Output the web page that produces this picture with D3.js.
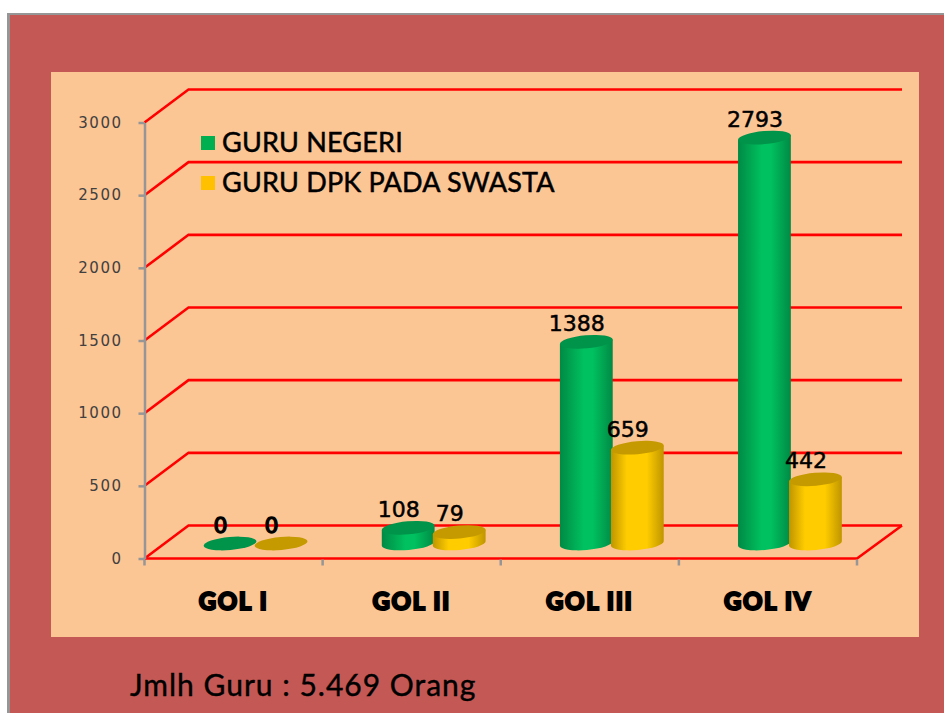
<!DOCTYPE html>
<html>
<head>
<meta charset="utf-8">
<script src="https://cdnjs.cloudflare.com/ajax/libs/d3/7.8.5/d3.min.js"></script>
<style>
    html, body { margin: 0; padding: 0; background: #fff; }
    svg { display: block; }
</style>
</head>
<body>
<svg width="944" height="713"></svg>
<script>
var categories = ["GOL I", "GOL II", "GOL III", "GOL IV"];
var guruNegeri = [0, 108, 1388, 2793];
var guruDpk = [0, 79, 659, 442];
var seriesNames = ["GURU NEGERI", "GURU DPK PADA SWASTA"];
var yTicks = [0, 500, 1000, 1500, 2000, 2500, 3000];
var footerText = "Jmlh Guru : 5.469 Orang";

var svg = d3.select("svg"),
    width = +svg.attr("width"),
    height = +svg.attr("height");

var plot = {left: 144.5, right: 857, top: 122.5, bottom: 558.5},
    depth = {x: 44, y: 33},
    rx = 26.5, ry = 6.5, tilt = -5;

var x = d3.scaleBand().domain(categories).range([plot.left, plot.right]);
var y = d3.scaleLinear().domain([0, 3000]).range([plot.bottom, plot.top]);

var colors = [
    {top: "#00934a", mid: "#00c15f", edge: "#008a45", from: "45%", to: "62%"},
    {top: "#c49a00", mid: "#ffcc00", edge: "#bf9500", from: "30%", to: "68%"}
];

// frame and panel
svg.append("rect").attr("x", 7).attr("y", 13).attr("width", width - 7).attr("height", height - 13).attr("fill", "#969696");
svg.append("rect").attr("x", 10).attr("y", 15).attr("width", width - 10).attr("height", height - 15).attr("fill", "#c45854");
svg.append("rect").attr("x", 51).attr("y", 72).attr("width", 868).attr("height", 565).attr("fill", "#fcc594");

var defs = svg.append("defs");
colors.forEach(function(c, i) {
    var g = defs.append("linearGradient").attr("id", "cyl" + i);
    g.append("stop").attr("offset", "0%").attr("stop-color", c.edge);
    g.append("stop").attr("offset", c.from).attr("stop-color", c.mid);
    g.append("stop").attr("offset", c.to).attr("stop-color", c.mid);
    g.append("stop").attr("offset", "100%").attr("stop-color", c.edge);
});

// red grid: side wall and back wall
var grid = svg.append("g").attr("fill", "none").attr("stroke", "#ff0000").attr("stroke-width", 2.6);
grid.selectAll("path.wall")
    .data(yTicks)
    .enter().append("path")
    .attr("class", "wall")
    .attr("d", function(d) {
        return "M" + plot.left + "," + y(d) +
            "L" + (plot.left + depth.x) + "," + (y(d) - depth.y) +
            "H" + (plot.right + depth.x + 1);
    });
grid.append("path")
    .attr("d", "M" + plot.left + "," + y(0) + "H" + plot.right +
        "L" + (plot.right + depth.x + 1) + "," + (y(0) - depth.y));

// axes
var yAxis = svg.append("g")
    .attr("transform", "translate(" + plot.left + ",0)")
    .call(d3.axisLeft(y).tickValues(yTicks).tickFormat(d3.format("d")).tickSize(6).tickPadding(16).tickSizeOuter(0));
yAxis.selectAll("path,line").attr("stroke", "#969696").attr("stroke-width", 2.5);
yAxis.selectAll("text")
    .attr("fill", "#404040")
    .style("font-family", "'DejaVu Sans'")
    .style("font-size", "15px")
    .style("letter-spacing", "1.5px");

var edgeTicks = x.domain().map(function(d) { return x(d); }).concat([plot.right]);
var xAxis = svg.append("g");
xAxis.selectAll("line")
    .data(edgeTicks)
    .enter().append("line")
    .attr("x1", function(d) { return d; })
    .attr("x2", function(d) { return d; })
    .attr("y1", plot.bottom + 1)
    .attr("y2", plot.bottom + 7)
    .attr("stroke", "#969696")
    .attr("stroke-width", 2.5);
xAxis.selectAll("text")
    .data(categories)
    .enter().append("text")
    .attr("x", function(d) { return x(d) + x.bandwidth() / 2; })
    .attr("y", 610)
    .attr("text-anchor", "middle")
    .attr("fill", "#000")
    .attr("stroke", "#000")
    .attr("stroke-width", 2)
    .style("font-family", "Lato")
    .style("font-weight", 900)
    .style("font-size", "24px")
    .style("letter-spacing", "1.6px")
    .text(function(d) { return d; });

// cylinders
var rows = [];
categories.forEach(function(c, i) {
    rows.push({cat: c, s: 0, v: guruNegeri[i]});
    rows.push({cat: c, s: 1, v: guruDpk[i]});
});

function cx(d) {
    return x(d.cat) + x.bandwidth() / 2 + depth.x / 2 + (d.s === 0 ? -25.5 : 25.5);
}
function topY(d) { return y(d.v) - 15; }

var rad = tilt * Math.PI / 180,
    ex = rx * Math.cos(rad),
    ey = rx * Math.sin(rad);

var bars = svg.append("g").selectAll("g")
    .data(rows)
    .enter().append("g");

bars.filter(function(d) { return d.v > 0; })
    .append("path")
    .attr("fill", function(d) { return "url(#cyl" + d.s + ")"; })
    .attr("d", function(d) {
        var c = cx(d), t = topY(d), b = y(0) - 15;
        return "M" + (c - ex) + "," + (t - ey) +
            "L" + (c - ex) + "," + (b - ey) +
            "A" + rx + "," + ry + " " + tilt + " 0 0 " + (c + ex) + "," + (b + ey) +
            "L" + (c + ex) + "," + (t + ey) + "Z";
    });

bars.append("ellipse")
    .attr("rx", rx)
    .attr("ry", ry)
    .attr("fill", function(d) { return colors[d.s].top; })
    .attr("transform", function(d) {
        return "translate(" + cx(d) + "," + topY(d) + ") rotate(" + tilt + ")";
    });

bars.append("text")
    .attr("x", function(d) { return cx(d) - 9.5; })
    .attr("y", function(d) { return topY(d) - 11; })
    .attr("text-anchor", "middle")
    .attr("fill", "#000")
    .attr("stroke", "#000")
    .attr("stroke-width", function(d) { return d.v === 0 ? 1.4 : 0.5; })
    .style("font-family", "'DejaVu Sans'")
    .style("font-size", "22px")
    .text(function(d) { return d.v; });

// legend
var legend = svg.append("g").selectAll("g")
    .data(seriesNames)
    .enter().append("g")
    .attr("transform", function(d, i) { return "translate(201," + (136 + i * 40) + ")"; });
legend.append("rect")
    .attr("width", 14)
    .attr("height", 14)
    .attr("fill", function(d, i) { return i === 0 ? "#00b050" : "#ffc000"; });
legend.append("text")
    .attr("x", 21)
    .attr("y", 16)
    .attr("fill", "#000")
    .attr("stroke", "#000")
    .attr("stroke-width", 0.5)
    .style("font-family", "Lato")
    .style("font-size", "27px")
    .style("letter-spacing", "0.2px")
    .text(function(d) { return d; });

// total under the chart
svg.append("text")
    .attr("x", 130)
    .attr("y", 696)
    .attr("fill", "#000")
    .attr("stroke", "#000")
    .attr("stroke-width", 0.4)
    .style("font-family", "Lato")
    .style("font-size", "30px")
    .style("letter-spacing", "1px")
    .text(footerText);
</script>
</body>
</html>
